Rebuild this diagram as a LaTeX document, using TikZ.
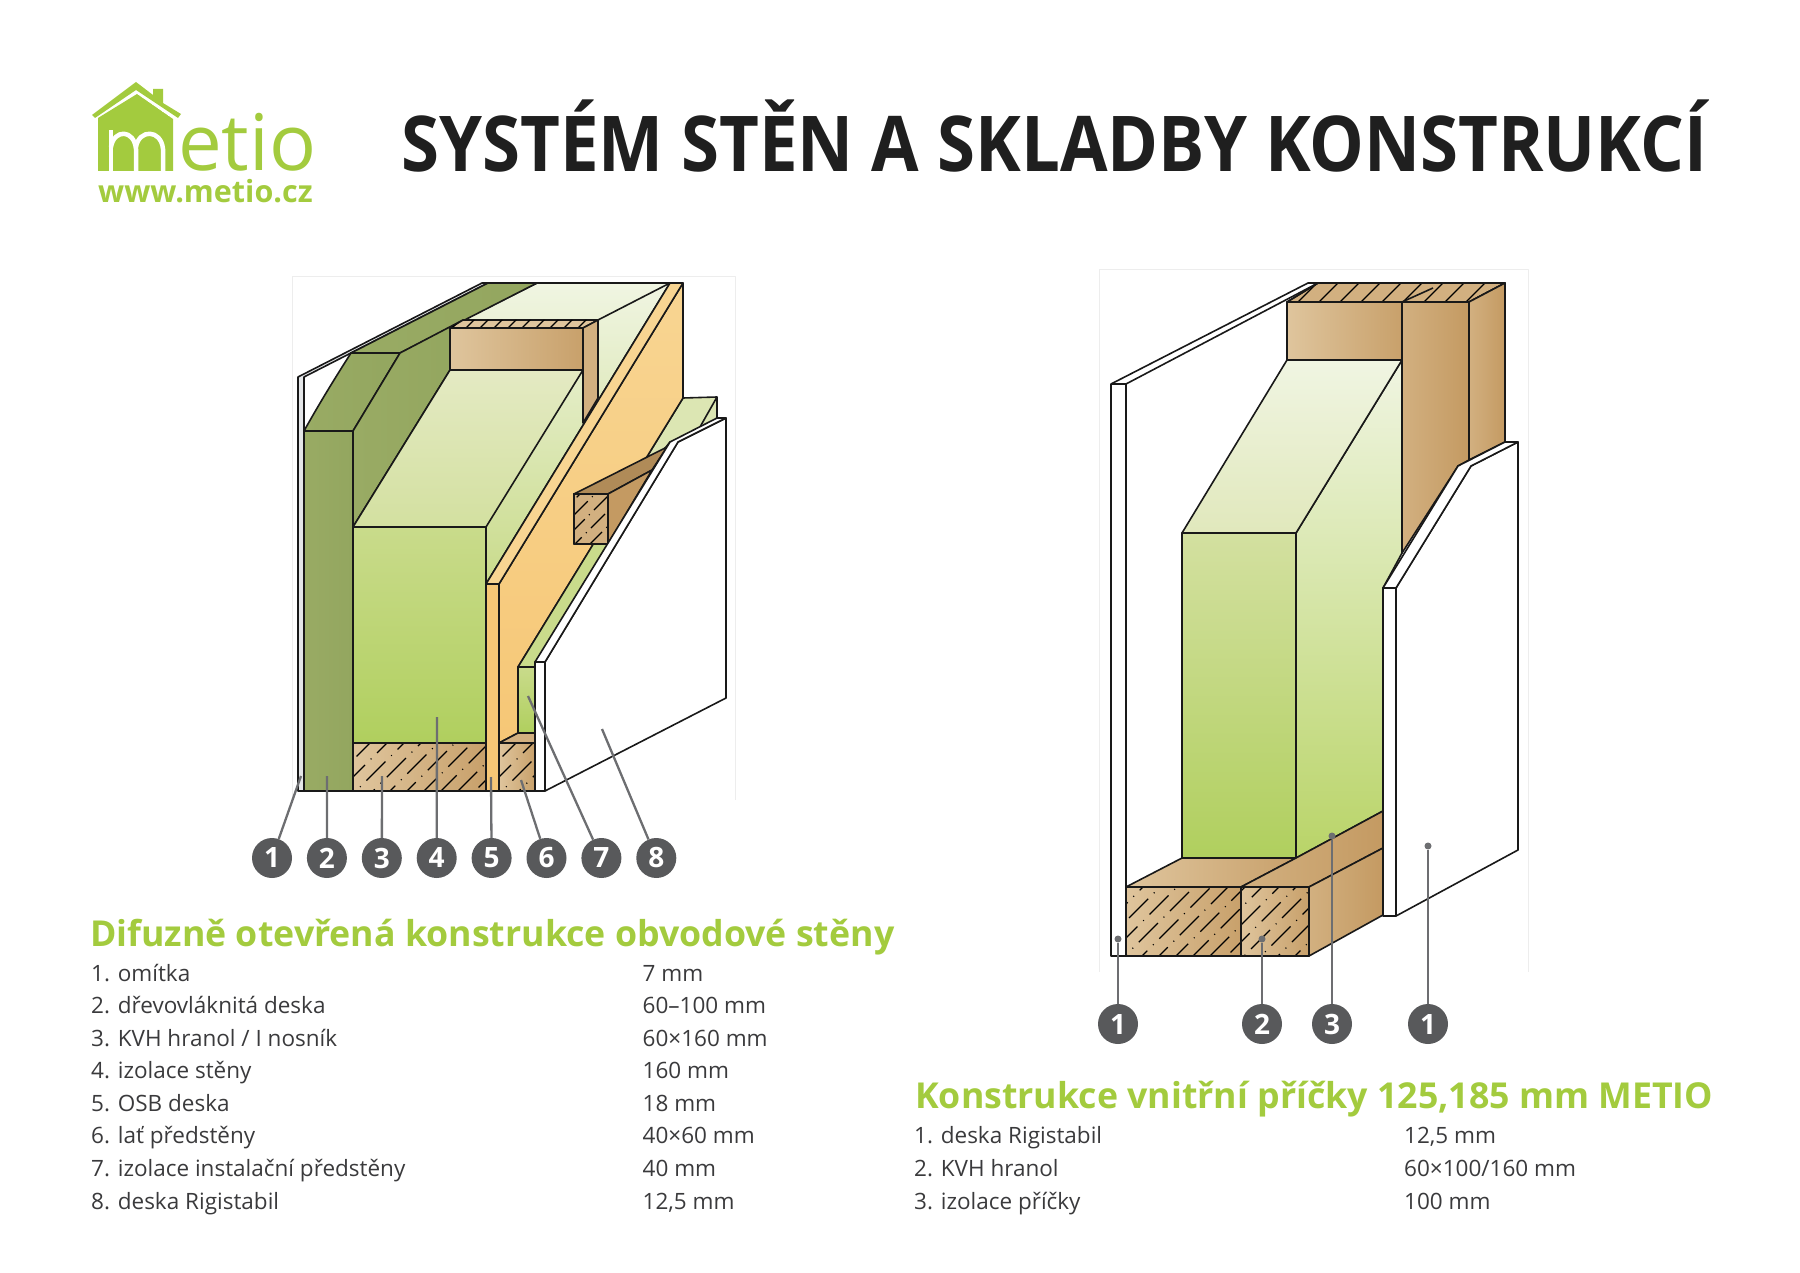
\documentclass[tikz,border=0pt]{standalone}
\usepackage{fontspec}
\setmainfont{Open Sans}
\usetikzlibrary{positioning}
\definecolor{metiogreen}{HTML}{A3CB3E}
\definecolor{badgegray}{HTML}{58595B}
\definecolor{leadergray}{HTML}{6D6E71}
\definecolor{rowgray}{HTML}{3A3A3C}
\definecolor{plaster}{HTML}{E4E6E8}
\definecolor{fibre}{HTML}{99AB64}
\definecolor{fibreside}{HTML}{93A65F}
\definecolor{timberlight}{HTML}{DFC59D}
\definecolor{timbermid}{HTML}{D2B080}
\definecolor{timberdark}{HTML}{C49A62}
\definecolor{insone}{HTML}{C9DB8B}
\definecolor{instwo}{HTML}{B0CF5E}
\definecolor{insthree}{HTML}{E4EAC3}
\definecolor{insfour}{HTML}{D3E0A0}
\definecolor{insfive}{HTML}{F0F5E2}
\definecolor{insside}{HTML}{B9D468}
\definecolor{osbone}{HTML}{F8D592}
\definecolor{osbtwo}{HTML}{F6C776}
\tikzstyle{diagram}=[x=1pt, y=-1pt, line join=round]
\tikzstyle{wall}=[draw=black!90, line width=1.6pt]
\tikzstyle{frame}=[draw=black!7, line width=0.8pt]
\tikzstyle{board}=[wall, fill=white]
\tikzstyle{plasterface}=[wall, fill=plaster]
\tikzstyle{fibreface}=[wall, left color=fibre, right color=fibreside]
\tikzstyle{insfront}=[wall, top color=insone, bottom color=instwo]
\tikzstyle{instop}=[wall, top color=insthree, bottom color=insfour]
\tikzstyle{insback}=[wall, top color=insfive, bottom color=insone]
\tikzstyle{osbface}=[wall, top color=osbone, bottom color=osbtwo]
\tikzstyle{timber}=[wall, left color=timberlight, right color=timberdark!85!timberlight]
\tikzstyle{timberside}=[wall, left color=timbermid, right color=timberdark]
\tikzstyle{hatchline}=[black, line width=1.1pt]
\tikzstyle{badge}=[circle, fill=badgegray, text=white, minimum size=40pt, inner sep=0pt, font=\fontsize{28}{28}\selectfont\bfseries]
\tikzstyle{leader}=[draw=leadergray, line width=2.3pt]
\tikzstyle{pin}=[circle, fill=leadergray, minimum size=7pt, inner sep=0pt]
\tikzstyle{row}=[anchor=base west, inner sep=0pt, text=rowgray, font=\fontsize{22.5}{27}\selectfont]
\tikzstyle{heading}=[anchor=base west, inner sep=0pt, text=metiogreen, font=\fontsize{35.7}{42}\selectfont\bfseries]
% diagonal grain of a sawn timber end
\newcommand{\hatchbox}[4]{
  \begin{scope}
    \clip (#1,#2) rectangle (#3,#4);
    \foreach \p in {0,17,...,340}
      \draw[hatchline, dash pattern=on 27pt off 8pt on 1pt off 8pt, dash phase=\p*2.3pt] (#1-#4+#2+\p,#4) -- ++(300,-300);
  \end{scope}
}
\begin{document}
\begin{tikzpicture}[diagram]
  \useasboundingbox (0,0) rectangle (1800,1273);
  % logo
  \fill[metiogreen] (92,115) -- (136,82) -- (153,95) -- (153,89) -- (163,89) -- (163,103) -- (181,114) -- (178,118) -- (136,90) -- (95,118) -- cycle;
  \begin{scope}
    \clip (137,94) -- (173,119) -- (173,171) -- (98,171) -- (98,118) -- cycle;
    \fill[metiogreen] (137,94) -- (173,119) -- (173,171) -- (98,171) -- (98,118) -- cycle;
    \draw[white, line width=4.5pt] (111,175) -- (111,130);
    \draw[white, line width=4.5pt] (111,147) .. controls (114,129) and (134,129) .. (136,149) -- (136,175);
    \draw[white, line width=4.5pt] (136,147) .. controls (139,129) and (161,129) .. (163,149) -- (163,175);
  \end{scope}
  \node[anchor=base west, inner sep=0pt, text=metiogreen, font=\fontsize{78}{78}\selectfont] (etio) at (178,171) {etio};
  \node[anchor=base west, inner sep=0pt, text=metiogreen, font=\fontsize{30.5}{31}\selectfont\bfseries] (web) at (98,203) {www.metio.cz};
  % title
  \node[anchor=base west, inner sep=0pt, text=black!88, xscale=0.895, transform shape, font=\fontsize{77}{77}\selectfont\bfseries] (title) at (401,172) {SYSTÉM STĚN A SKLADBY KONSTRUKCÍ};

  % wall on the left
  \draw[frame] (292,800) -- (292,276) -- (735,276) -- (735,800);
  \path[plasterface] (298,791) -- (298,377) -- (482,283) -- (488,283) -- (304,377) -- (304,791) -- cycle;
  \path[insback] (463,320) -- (537,283) -- (670,283) -- (486,584) -- (486,527) -- (450,370) -- cycle;
  \draw[wall] (598,320) -- (670,283);
  \path[fibreface] (304,431) .. controls (319,404) and (335,378) .. (351,353) -- (400,353) -- (353,431) -- cycle;
  \path[fibreface] (351,353) -- (400,353) -- (537,283) -- (488,283) -- cycle;
  \path[fibreface] (400,353) -- (463,320) -- (450,328) -- (450,370) -- (353,527) -- (353,431) -- cycle;
  \path[fibreface] (304,431) rectangle (353,791);
  % top plate
  \path[wall, fill=timberlight] (450,328) -- (463,320) -- (598,320) -- (583,328) -- cycle;
  \begin{scope}
    \clip (450,328) -- (463,320) -- (598,320) -- (583,328) -- cycle;
    \foreach \p in {0,14,...,150}
      \draw[hatchline] (452+\p,328) -- ++(14,-14);
  \end{scope}
  \path[timber] (450,328) rectangle (583,370);
  \path[wall, fill=timbermid] (583,328) -- (598,320) -- (598,398) -- (583,423) -- cycle;
  \path[instop] (353,527) -- (450,370) -- (583,370) -- (486,527) -- cycle;
  \path[insfront] (353,527) rectangle (486,743);
  % bottom plate
  \path[timber] (353,743) rectangle (486,791);
  \hatchbox{353}{743}{486}{791}
  \draw[wall] (353,743) rectangle (486,791);
  % service layer behind the board
  \path[wall, fill=insfour!80!white] (683,398) -- (717,397) -- (717,420) -- (545,667) -- (518,667) -- cycle;
  \draw[wall] (717,397) -- (700,427);
  % sheathing
  \path[osbface] (499,584) -- (683,283) -- (683,398) -- (518,667) -- (518,733) -- (499,743) -- cycle;
  \path[wall, fill=osbone] (486,584) -- (670,283) -- (683,283) -- (499,584) -- cycle;
  \path[wall, fill=osbtwo] (486,584) rectangle (499,791);
  \path[timber] (499,743) rectangle (535,791);
  \hatchbox{499}{743}{535}{791}
  \draw[wall] (499,743) rectangle (535,791);
  \path[wall, fill=timbermid] (499,743) -- (518,733) -- (535,733) -- (535,743) -- cycle;
  \path[wall, top color=insone, bottom color=instwo] (518,667) rectangle (535,733);
  \path[wall, fill=insone] (518,667) -- (608,520) -- (670,442) -- (535,667) -- cycle;
  % lath
  \path[wall, fill=timberdark!90!black] (574,494) -- (667,447) -- (652,470) -- (608,494) -- cycle;
  \path[wall, fill=timberdark] (608,494) -- (652,470) -- (608,544) -- cycle;
  \path[wall, fill=timbermid] (574,494) rectangle (608,544);
  \begin{scope}
    \clip (574,494) rectangle (608,544);
    \foreach \p in {0,15,...,90}
      \draw[hatchline, dash pattern=on 20pt off 6pt on 1pt off 6pt, dash phase=\p*1.7pt] (530+\p,544) -- ++(80,-80);
  \end{scope}
  \draw[wall] (574,494) rectangle (608,544);
  % plasterboard
  \path[board] (545,791) -- (545,662) -- (678,442) -- (726,418) -- (726,698) -- cycle;
  \path[board] (535,662) -- (670,442) -- (717,418) -- (726,418) -- (678,442) -- (545,662) -- cycle;
  \path[board] (535,662) rectangle (545,791);
  \draw[wall] (298,791) -- (545,791);

  % wall on the right
  \draw[frame] (1099,972) -- (1099,269) -- (1528,269) -- (1528,972);
  \path[board] (1111,956) -- (1111,384) -- (1308,283) -- (1318,283) -- (1126,384) -- (1126,956) -- cycle;
  \draw[wall] (1111,384) -- (1126,384);
  \path[wall, fill=timbermid] (1287,302) -- (1318,283) -- (1505,283) -- (1469,302) -- cycle;
  \begin{scope}
    \clip (1287,302) -- (1318,283) -- (1505,283) -- (1469,302) -- cycle;
    \foreach \p in {0,21,...,210}
      \draw[hatchline] (1296+\p,304) -- ++(23,-23);
  \end{scope}
  \draw[wall] (1287,302) -- (1318,283) -- (1505,283) -- (1469,302) -- cycle;
  \draw[wall] (1402,302) -- (1433,288);
  \path[timber] (1287,302) rectangle (1402,360);
  \path[timberside] (1402,302) -- (1469,302) -- (1469,460) -- (1458,466) -- (1402,553) -- cycle;
  \path[timberside] (1469,302) -- (1505,283) -- (1505,442) -- (1469,460) -- cycle;
  \path[wall, top color=insfive, bottom color=insside] (1296,533) -- (1402,360) -- (1402,553) -- (1383,588) -- (1383,811) -- (1296,858) -- cycle;
  \path[wall, top color=insfive, bottom color=insthree!80!insfour] (1182,533) -- (1287,360) -- (1402,360) -- (1296,533) -- cycle;
  \path[wall, top color=insfour, bottom color=instwo] (1182,533) rectangle (1296,858);
  % sill
  \path[timber] (1126,887) -- (1182,858) -- (1296,858) -- (1241,887) -- cycle;
  \path[timberside] (1241,887) -- (1296,858) -- (1383,811) -- (1383,848) -- (1309,887) -- cycle;
  \path[timberside] (1309,887) -- (1383,848) -- (1383,915) -- (1309,956) -- cycle;
  \path[timber] (1126,887) rectangle (1241,956);
  \path[timber] (1241,887) rectangle (1309,956);
  \hatchbox{1126}{887}{1309}{956}
  \draw[wall] (1126,887) rectangle (1241,956);
  \draw[wall] (1241,887) rectangle (1309,956);
  \draw[wall] (1111,956) -- (1309,956);
  % board
  \path[board] (1396,916) -- (1396,588) -- (1471,466) -- (1518,442) -- (1518,850) -- cycle;
  \path[board] (1383,588) -- (1458,466) -- (1505,442) -- (1518,442) -- (1471,466) -- (1396,588) -- cycle;
  \path[board] (1383,588) rectangle (1396,916);

  % callouts of the left wall
  \coordinate (p1) at (301,776);
  \coordinate (p2) at (327,776);
  \coordinate (p3) at (382,776);
  \coordinate (p4) at (437,717);
  \coordinate (p5) at (491,777);
  \coordinate (p6) at (521,780);
  \coordinate (p7) at (528,696);
  \coordinate (p8) at (602,729);
  \begin{scope}[node distance=14.5pt]
    \node[badge] (b1) at (272,858) {1};
    \node[badge] (b2) [right=of b1] {2};
    \node[badge] (b3) [right=of b2] {3};
    \node[badge] (b4) [right=of b3] {4};
    \node[badge] (b5) [right=of b4] {5};
    \node[badge] (b6) [right=of b5] {6};
    \node[badge] (b7) [right=of b6] {7};
    \node[badge] (b8) [right=of b7] {8};
  \end{scope}
  \draw[leader] (b1) -- (p1);
  \draw[leader] (b2) -- (p2);
  \draw[leader] (b3) -- (p3);
  \draw[leader] (b4) -- (p4);
  \draw[leader] (b5) -- (p5);
  \draw[leader] (b6) -- (p6);
  \draw[leader] (b7) -- (p7);
  \draw[leader] (b8) -- (p8);

  % callouts of the right wall
  \node[pin] (q1) at (1118,939) {};
  \node[pin] (q2) at (1262,939) {};
  \node[pin] (q3) at (1332,836) {};
  \node[pin] (q4) at (1428,846) {};
  \node[badge] (c1) at (1118,1024) {1};
  \node[badge] (c2) at (1262,1024) {2};
  \node[badge] (c3) at (1332,1024) {3};
  \node[badge] (c4) at (1428,1024) {1};
  \draw[leader] (c1) -- (q1);
  \draw[leader] (c2) -- (q2);
  \draw[leader] (c3) -- (q3);
  \draw[leader] (c4) -- (q4);

  % left table
  \node[heading] (h1) at (90,946) {Difuzně otevřená konstrukce obvodové stěny};
  \node[row] (a1) at (91,981) {1. omítka};
  \node[row] (a2) at (91,1013.5) {2. dřevovláknitá deska};
  \node[row] (a3) at (91,1046) {3. KVH hranol / I nosník};
  \node[row] (a4) at (91,1078.6) {4. izolace stěny};
  \node[row] (a5) at (91,1111.2) {5. OSB deska};
  \node[row] (a6) at (91,1143.8) {6. lať předstěny};
  \node[row] (a7) at (91,1176.4) {7. izolace instalační předstěny};
  \node[row] (a8) at (91,1209) {8. deska Rigistabil};
  \node[row] (m1) at (642.5,981) {7 mm};
  \node[row] (m2) at (642.5,1013.5) {60–100 mm};
  \node[row] (m3) at (642.5,1046) {60×160 mm};
  \node[row] (m4) at (642.5,1078.6) {160 mm};
  \node[row] (m5) at (642.5,1111.2) {18 mm};
  \node[row] (m6) at (642.5,1143.8) {40×60 mm};
  \node[row] (m7) at (642.5,1176.4) {40 mm};
  \node[row] (m8) at (642.5,1209) {12,5 mm};

  % right table
  \node[heading] (h2) at (915,1108) {Konstrukce vnitřní příčky 125,185 mm METIO};
  \node[row] (d1) at (914,1143.8) {1. deska Rigistabil};
  \node[row] (d2) at (914,1176.4) {2. KVH hranol};
  \node[row] (d3) at (914,1209) {3. izolace příčky};
  \node[row] (n1) at (1404,1143.8) {12,5 mm};
  \node[row] (n2) at (1404,1176.4) {60×100/160 mm};
  \node[row] (n3) at (1404,1209) {100 mm};
\end{tikzpicture}
\end{document}
